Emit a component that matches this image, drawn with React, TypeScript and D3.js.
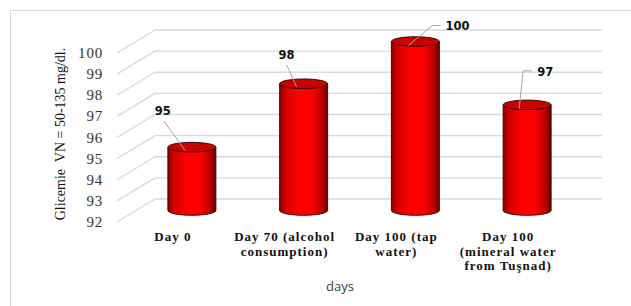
import React from "react";
import { scaleBand, scaleLinear, range } from "d3";

// chart values
const categories = [
  ["Day 0"],
  ["Day 70 (alcohol", "consumption)"],
  ["Day 100 (tap", "water)"],
  ["Day 100", "(mineral water", "from Tuşnad)"],
];
const glycemia = [95, 98, 100, 97];
const yTicks = range(92, 101);

// leader line layout per bar (relative to top centre of the cylinder)
const leaders = [
  { tx: -29, ty: -32, pts: [[-7, 3], [-28, -26]], anchor: "middle" },
  { tx: -17, ty: -25, pts: [[-7, 3], [-17, -19]], anchor: "middle" },
  { tx: 30, ty: -12, pts: [[-7, 4], [17, -16], [25, -16]], anchor: "start" },
  { tx: 10, ty: -29, pts: [[-8, 4], [-4, -34], [5, -34]], anchor: "start" },
];

const W = 631;
const H = 306;
const DX = 38; // depth of the 3d floor
const DY = -23;
const R = 24; // cylinder radius
const RY = 4.8;

export default function App() {
  const x = scaleBand<number>()
    .domain(categories.map((_, i) => i))
    .range([117, 564]);
  const y = scaleLinear().domain([92, 100]).range([222, 53]);

  const backX0 = 117 + DX;
  const backX1 = 564 + DX;

  return (
    <svg width={W} height={H} style={{ position: "absolute", left: 0, top: 0 }}>
      <defs>
        <linearGradient id="cyl" x1="0" x2="1" y1="0" y2="0">
          <stop offset="0%" stopColor="#8a0000" />
          <stop offset="12%" stopColor="#d00000" />
          <stop offset="40%" stopColor="#ff0000" />
          <stop offset="68%" stopColor="#fa0000" />
          <stop offset="88%" stopColor="#b80000" />
          <stop offset="100%" stopColor="#6a0000" />
        </linearGradient>
      </defs>
      <rect x={10.5} y={10.5} width={640} height={320} fill="white" stroke="#d9d9d9" strokeWidth={1} />

      {/* back wall gridlines + floor diagonals */}
      {yTicks.map((t) => (
        <g key={t} stroke="#d9d9d9" strokeWidth={1.3} fill="none">
          <line x1={backX0} x2={backX1} y1={y(t) + DY} y2={y(t) + DY} />
          <line x1={117} x2={backX0} y1={y(t)} y2={y(t) + DY} />
        </g>
      ))}

      {/* tick labels */}
      {yTicks.map((t) => (
        <text
          key={t}
          x={103}
          y={y(t) + 5}
          textAnchor="end"
          fontFamily="'Liberation Serif', serif"
          fontSize={15}
          letterSpacing={0.8}
          fill="#333"
        >
          {t}
        </text>
      ))}

      {/* cylinders */}
      {glycemia.map((v, i) => {
        const cx = x(i)! + x.bandwidth() / 2 + DX / 2;
        const yb = y(92) + DY / 2;
        const yt = y(v) + DY / 2;
        return (
          <g key={i} stroke="#2a0000" strokeWidth={0.9}>
            <path
              d={`M${cx - R},${yt} L${cx - R},${yb} A${R},${RY} 0 0 0 ${cx + R},${yb} L${cx + R},${yt} Z`}
              fill="url(#cyl)"
            />
            <ellipse cx={cx} cy={yt} rx={R} ry={RY} fill="#c80000" />
          </g>
        );
      })}

      {/* data labels */}
      {glycemia.map((v, i) => {
        const cx = x(i)! + x.bandwidth() / 2 + DX / 2;
        const yt = y(v) + DY / 2;
        const L = leaders[i];
        return (
          <g key={i}>
            <polyline
              points={L.pts.map(([a, b]) => `${cx + a},${yt + b}`).join(" ")}
              fill="none"
              stroke="#a6a6a6"
              strokeWidth={1}
            />
            <text
              x={cx + L.tx}
              y={yt + L.ty}
              textAnchor={L.anchor as any}
              fontFamily="'DejaVu Sans', sans-serif"
              fontWeight="bold"
              fontSize={11.5}
              fill="#111"
            >
              {v}
            </text>
          </g>
        );
      })}

      {/* category labels */}
      {categories.map((lines, i) => (
        <text
          key={i}
          x={x(i)! + x.bandwidth() / 2}
          y={241}
          textAnchor="middle"
          fontFamily="'Liberation Serif', serif"
          fontWeight="bold"
          fontSize={13}
          letterSpacing={1}
          fill="#111"
        >
          {lines.map((l, j) => (
            <tspan key={j} x={x(i)! + x.bandwidth() / 2} dy={j === 0 ? 0 : 14.5}>
              {l}
            </tspan>
          ))}
        </text>
      ))}

      {/* axis titles */}
      <text
        transform="translate(65,134) rotate(-90)"
        textAnchor="middle"
        fontFamily="'Liberation Serif', serif"
        fontSize={14}
        fill="#111"
        style={{ whiteSpace: "pre" }}
      >
        {"Glicemie  VN = 50-135 mg/dl."}
      </text>
      <text
        x={340}
        y={291}
        textAnchor="middle"
        fontFamily="'Open Sans', sans-serif"
        fontSize={13}
        fill="#404040"
      >
        days
      </text>
    </svg>
  );
}
